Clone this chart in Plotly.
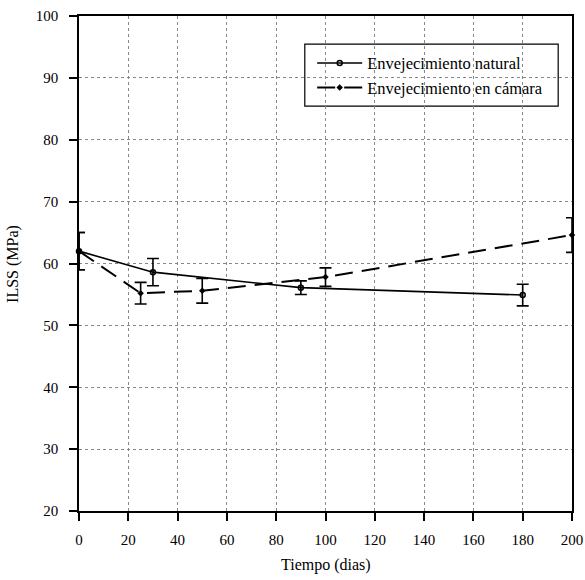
import plotly.graph_objects as go

# Data
t_nat = [0, 30, 90, 180]
ilss_nat = [62.0, 58.6, 56.1, 54.9]
err_nat = [3.0, 2.2, 1.1, 1.75]

t_cam = [0, 25, 50, 100, 200]
ilss_cam = [62.0, 55.2, 55.6, 57.8, 64.6]
err_cam = [3.0, 1.75, 2.0, 1.5, 2.8]

x_ticks = list(range(0, 201, 20))
y_ticks = list(range(20, 101, 10))

font = "Liberation Serif, Times New Roman, serif"

fig = go.Figure()
fig.add_trace(go.Scatter(
    x=t_nat, y=ilss_nat, mode="lines+markers", name="Envejecimiento natural",
    line=dict(color="black", width=1.6), cliponaxis=False,
    marker=dict(symbol="circle-open", size=5, color="black", line=dict(width=1.5)),
    error_y=dict(type="data", array=err_nat, color="black", thickness=1.6, width=6),
))
fig.add_trace(go.Scatter(
    x=t_cam, y=ilss_cam, mode="lines+markers", name="Envejecimiento en cámara",
    line=dict(color="black", width=2, dash="18px,9px"), cliponaxis=False,
    marker=dict(symbol="diamond", size=5, color="black"),
    error_y=dict(type="data", array=err_cam, color="black", thickness=1.6, width=6),
))

axis_common = dict(
    showline=True, linecolor="black", linewidth=1.6, mirror=True,
    ticks="outside", ticklen=8, tickcolor="black", tickwidth=1.5,
    showgrid=True, gridcolor="#888", griddash="dot", gridwidth=1,
    zeroline=False, tickfont=dict(family=font, size=15, color="black"),
    automargin=False,
)

fig.update_layout(
    width=585, height=580,
    margin=dict(l=79, r=13, t=16, b=69),
    paper_bgcolor="white", plot_bgcolor="white",
    font=dict(family=font, color="black"),
    xaxis=dict(range=[0, 200], tickvals=x_ticks, ticklabelstandoff=6, **axis_common),
    yaxis=dict(range=[20, 100], tickvals=y_ticks, ticklabelstandoff=8, **axis_common),
    legend=dict(x=0.473, y=0.940, xanchor="left", yanchor="top",
                bgcolor="rgba(0,0,0,0)", borderwidth=0, itemwidth=45,
                font=dict(family=font, size=16.5, color="black"),
                tracegroupgap=0),
    showlegend=True,
    shapes=[dict(type="rect", xref="paper", yref="paper",
                 x0=0.458, x1=0.972, y0=0.818, y1=0.943,
                 line=dict(color="black", width=1.2), fillcolor="white", layer="below")],
    annotations=[
        dict(text="Tiempo (dias)", xref="paper", yref="paper", x=0.5, y=-0.109,
             showarrow=False, xanchor="center", yanchor="middle",
             font=dict(family=font, size=16, color="black")),
        dict(text="ILSS (MPa)", xref="paper", yref="paper", x=-0.135, y=0.5,
             showarrow=False, xanchor="center", yanchor="middle", textangle=-90,
             font=dict(family=font, size=16, color="black")),
    ],
)

fig.write_html("out.html")
